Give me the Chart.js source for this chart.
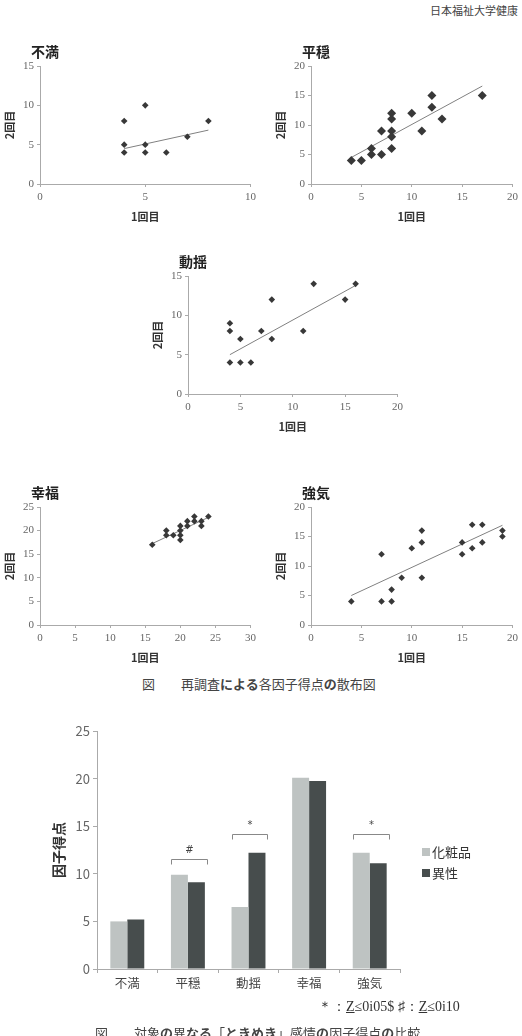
<!DOCTYPE html>
<html>
<head>
<meta charset="utf-8">
<script src="https://cdn.jsdelivr.net/npm/chart.js@4"></script>
<style>
body{margin:0;width:522px;height:1036px;position:relative;background:#fff;overflow:hidden;font-family:"Noto Sans CJK JP",sans-serif;color:#444}
canvas{position:absolute}
.t{position:absolute;white-space:nowrap}
.t b{font-weight:700}
</style>
</head>
<body>
<div class="t" style="left:430px;top:2px;font-size:11px">日本福祉大学健康</div>

<canvas id="c1" width="260" height="190" style="left:0;top:40px"></canvas>
<canvas id="c2" width="251" height="190" style="left:271px;top:40px"></canvas>
<canvas id="c3" width="259" height="190" style="left:148px;top:250px"></canvas>
<canvas id="c4" width="260" height="190" style="left:0;top:481px"></canvas>
<canvas id="c5" width="251" height="190" style="left:271px;top:481px"></canvas>

<div class="t" style="left:142px;top:675px;font-size:13px;line-height:18px">図　　再調査<b>による</b>各因子得点<b>の</b>散布図</div>

<canvas id="bar" width="482" height="295" style="left:40px;top:715px"></canvas>

<div class="t" style="left:318px;top:998px;font-size:14px;line-height:18px;font-family:'Liberation Serif',serif;color:#333">＊：<u>Z</u>≤0i05$ ♯：<u>Z</u>≤0i10</div>
<div class="t" style="left:95px;top:1024px;font-size:13px;line-height:18px">図　　対象<b>の</b>異<b>なる</b>「<b>ときめき</b>」感情<b>の</b>因子得点<b>の</b>比較</div>

<script>
// 散布図のデータ (1回目, 2回目)
const fumanX = [4, 4, 4, 5, 5, 5, 6, 7, 8]
const fumanY = [8, 5, 4, 10, 5, 4, 4, 6, 8]
const fumanTrendX = [4, 8]
const fumanTrendY = [4.5, 6.85]

const heionX = [4, 5, 6, 6, 7, 7, 8, 8, 8, 8, 8, 10, 11, 12, 12, 13, 17]
const heionY = [4, 4, 6, 5, 9, 5, 12, 11, 9, 8, 6, 12, 9, 15, 13, 11, 15]
const heionTrendX = [4, 17]
const heionTrendY = [4.5, 16.6]

const douyouX = [4, 4, 4, 5, 5, 6, 7, 8, 8, 11, 12, 15, 16]
const douyouY = [9, 8, 4, 7, 4, 4, 8, 12, 7, 8, 14, 12, 14]
const douyouTrendX = [4, 16]
const douyouTrendY = [5.0, 13.8]

const koufukuX = [16, 18, 18, 19, 20, 20, 20, 20, 21, 21, 22, 22, 23, 23, 24]
const koufukuY = [17, 20, 19, 19, 21, 20, 19, 18, 22, 21, 23, 22, 22, 21, 23]
const koufukuTrendX = [16, 24]
const koufukuTrendY = [17.25, 22.8]

const tsuyokiX = [4, 7, 7, 8, 8, 9, 10, 11, 11, 11, 15, 15, 16, 16, 17, 17, 19, 19]
const tsuyokiY = [4, 12, 4, 6, 4, 8, 13, 16, 14, 8, 14, 12, 17, 13, 17, 14, 16, 15]
const tsuyokiTrendX = [4, 19]
const tsuyokiTrendY = [5.0, 16.9]

// 棒グラフのデータ
const categories = ['不満', '平穏', '動揺', '幸福', '強気']
const keshouhin = [5.0, 9.9, 6.5, 20.1, 12.2]
const isei = [5.2, 9.1, 12.2, 19.75, 11.1]
const sigIndex = [1, 2, 4]
const sigMark = ['#', '*', '*']
const sigLevel = [11.6, 14.2, 14.2]

const panelTitle = {
    id: 'panelTitle',
    afterDraw(chart, args, opts) {
        const ctx = chart.ctx
        const a = chart.chartArea
        ctx.save()
        ctx.font = 'bold 14px "Noto Sans CJK JP"'
        ctx.fillStyle = '#222'
        ctx.textBaseline = 'middle'
        ctx.fillText(opts.text, a.left - 9, a.top - 14)
        ctx.restore()
    }
}

function scatter(id, title, xs, ys, tx, ty, xMax, yMax, r) {
    const tickFont = {family: '"Liberation Serif", serif', size: 11}
    const titleFont = {family: '"Noto Sans CJK JP"', size: 11, weight: 'bold'}
    return new Chart(document.getElementById(id), {
        type: 'scatter',
        data: {
            datasets: [{
                data: xs.map((x, i) => ({x: x, y: ys[i]})),
                pointStyle: 'rectRot',
                pointRadius: r,
                backgroundColor: '#383838',
                borderColor: '#383838',
                borderWidth: 0
            }, {
                type: 'line',
                data: tx.map((x, i) => ({x: x, y: ty[i]})),
                borderColor: '#808080',
                borderWidth: 1,
                pointRadius: 0,
                fill: false
            }]
        },
        options: {
            responsive: false,
            animation: false,
            layout: {padding: {top: 26, left: 0, bottom: 0, right: 9}},
            plugins: {legend: {display: false}, tooltip: {enabled: false}, panelTitle: {text: title}},
            scales: {
                x: {
                    type: 'linear', min: 0, max: xMax,
                    afterFit: s => { s.height = 46 },
                    ticks: {stepSize: 5, font: tickFont, color: '#666', padding: 4, maxRotation: 0},
                    grid: {drawOnChartArea: false, tickLength: 3, color: '#aaa'},
                    border: {color: '#aaa'},
                    title: {display: true, text: '1回目', font: titleFont, color: '#333', padding: {top: 0, bottom: 7}}
                },
                y: {
                    min: 0, max: yMax,
                    afterFit: s => { s.width = 40 },
                    ticks: {stepSize: 5, font: tickFont, color: '#666', padding: 3},
                    grid: {drawOnChartArea: false, tickLength: 3, color: '#aaa'},
                    border: {color: '#aaa'},
                    title: {display: true, text: '2回目', font: titleFont, color: '#333', padding: {top: 3, bottom: 0}}
                }
            }
        },
        plugins: [panelTitle]
    })
}

scatter('c1', '不満', fumanX, fumanY, fumanTrendX, fumanTrendY, 10, 15, 3.3)
scatter('c2', '平穏', heionX, heionY, heionTrendX, heionTrendY, 20, 20, 4.5)
scatter('c3', '動揺', douyouX, douyouY, douyouTrendX, douyouTrendY, 20, 15, 3.3)
scatter('c4', '幸福', koufukuX, koufukuY, koufukuTrendX, koufukuTrendY, 30, 25, 3.3)
scatter('c5', '強気', tsuyokiX, tsuyokiY, tsuyokiTrendX, tsuyokiTrendY, 20, 20, 3.3)

// 有意差の括弧
const sigBrackets = {
    id: 'sigBrackets',
    afterDatasetsDraw(chart) {
        const ctx = chart.ctx
        const y = chart.scales.y
        ctx.save()
        ctx.strokeStyle = '#888'
        ctx.lineWidth = 1
        ctx.fillStyle = '#444'
        ctx.font = '10px "DejaVu Sans"'
        ctx.textAlign = 'center'
        ctx.textBaseline = 'middle'
        sigIndex.forEach((idx, i) => {
            const b0 = chart.getDatasetMeta(0).data[idx]
            const b1 = chart.getDatasetMeta(1).data[idx]
            const l = Math.round(b0.x - b0.width / 2) + 0.5
            const r = Math.round(b1.x + b1.width / 2 + 2) + 0.5
            const py = Math.round(y.getPixelForValue(sigLevel[i])) + 0.5
            ctx.beginPath()
            ctx.moveTo(l, py + 5)
            ctx.lineTo(l, py)
            ctx.lineTo(r, py)
            ctx.lineTo(r, py + 5)
            ctx.stroke()
            ctx.fillText(sigMark[i], (l + r) / 2, py - 9)
        })
        ctx.restore()
    }
}

// 凡例 (右側)
const sideLegend = {
    id: 'sideLegend',
    afterDraw(chart) {
        const ctx = chart.ctx
        const a = chart.chartArea
        ctx.save()
        ctx.font = '13px "Noto Sans CJK JP"'
        ctx.textBaseline = 'middle'
        chart.data.datasets.forEach((ds, i) => {
            const cy = (a.top + a.bottom) / 2 + 2 + i * 21
            ctx.fillStyle = ds.backgroundColor
            ctx.fillRect(a.right + 22, cy - 4, 8, 8)
            ctx.fillStyle = '#333'
            ctx.fillText(ds.label, a.right + 32, cy)
        })
        ctx.restore()
    }
}

new Chart(document.getElementById('bar'), {
    type: 'bar',
    data: {
        labels: categories,
        datasets: [
            {label: '化粧品', data: keshouhin, backgroundColor: '#bec3c2'},
            {label: '異性', data: isei, backgroundColor: '#474d4d'}
        ]
    },
    options: {
        responsive: false,
        animation: false,
        layout: {padding: {top: 16, left: 0, bottom: 0, right: 122}},
        datasets: {bar: {categoryPercentage: 0.56, barPercentage: 1}},
        plugins: {legend: {display: false}, tooltip: {enabled: false}},
        scales: {
            x: {
                afterFit: s => { s.height = 41 },
                ticks: {font: {family: '"Noto Sans CJK JP"', size: 12.5}, color: '#444', padding: 3},
                grid: {offset: true, drawOnChartArea: false, tickLength: 4, color: '#aaa'},
                border: {color: '#aaa'}
            },
            y: {
                min: 0, max: 25,
                afterFit: s => { s.width = 57 },
                ticks: {stepSize: 5, font: {family: '"Noto Sans CJK JP"', size: 13}, color: '#666', padding: 3},
                grid: {drawOnChartArea: false, tickLength: 4, color: '#aaa'},
                border: {color: '#aaa'},
                title: {display: true, text: '因子得点', font: {family: '"Noto Sans CJK JP"', size: 14, weight: 'bold'}, color: '#333', padding: {top: 10, bottom: 0}}
            }
        }
    },
    plugins: [sigBrackets, sideLegend]
})
</script>
</body>
</html>
